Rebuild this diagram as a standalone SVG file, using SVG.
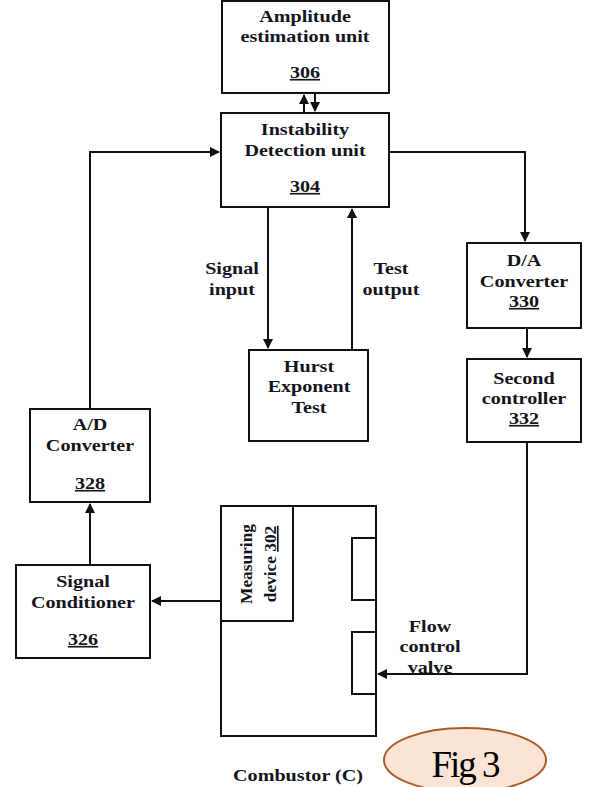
<svg xmlns="http://www.w3.org/2000/svg" width="601" height="787" viewBox="0 0 601 787">
<style>
.box{fill:#fff;stroke:#111;stroke-width:2}
.t{font-family:"Liberation Serif","Times New Roman",serif;font-weight:bold;font-size:16.5px;fill:#141420;text-anchor:middle}
.u{text-decoration:underline}
.c{fill:none;stroke:#111;stroke-width:2}
</style>
<defs>
<marker id="ah" markerWidth="10" markerHeight="10" refX="9" refY="5" orient="auto" markerUnits="userSpaceOnUse">
<path d="M0,0 L10,5 L0,10 z" fill="#111"/>
</marker>
</defs>
<rect width="601" height="787" fill="#fff"/>

<g id="amplitude">
<rect class="box" x="222" y="1" width="167" height="92"/>
<text class="t" transform="translate(305,22) scale(1.22,1)">Amplitude</text>
<text class="t" transform="translate(305,42) scale(1.22,1)">estimation unit</text>
<text class="t u" transform="translate(305,78) scale(1.22,1)">306</text>
</g>

<g id="instability">
<rect class="box" x="221" y="113" width="168" height="94"/>
<text class="t" transform="translate(305,135) scale(1.22,1)">Instability</text>
<text class="t" transform="translate(305,156) scale(1.22,1)">Detection unit</text>
<text class="t u" transform="translate(305,192) scale(1.22,1)">304</text>
</g>

<g id="hurst">
<rect class="box" x="249" y="350" width="119" height="91"/>
<text class="t" transform="translate(309,372) scale(1.22,1)">Hurst</text>
<text class="t" transform="translate(309,392) scale(1.22,1)">Exponent</text>
<text class="t" transform="translate(309,413) scale(1.22,1)">Test</text>
</g>

<g id="da">
<rect class="box" x="467" y="243" width="114" height="85"/>
<text class="t" transform="translate(524,266) scale(1.22,1)">D/A</text>
<text class="t" transform="translate(524,287) scale(1.22,1)">Converter</text>
<text class="t u" transform="translate(524,307) scale(1.22,1)">330</text>
</g>

<g id="second">
<rect class="box" x="467" y="359" width="114" height="83"/>
<text class="t" transform="translate(524,384) scale(1.22,1)">Second</text>
<text class="t" transform="translate(524,404) scale(1.22,1)">controller</text>
<text class="t u" transform="translate(524,424) scale(1.22,1)">332</text>
</g>

<g id="ad">
<rect class="box" x="30" y="409" width="120" height="93"/>
<text class="t" transform="translate(90,430) scale(1.22,1)">A/D</text>
<text class="t" transform="translate(90,451) scale(1.22,1)">Converter</text>
<text class="t u" transform="translate(90,489) scale(1.22,1)">328</text>
</g>

<g id="conditioner">
<rect class="box" x="16" y="565" width="134" height="93"/>
<text class="t" transform="translate(83,587) scale(1.22,1)">Signal</text>
<text class="t" transform="translate(83,608) scale(1.22,1)">Conditioner</text>
<text class="t u" transform="translate(83,645) scale(1.22,1)">326</text>
</g>

<g id="combustor">
<rect class="box" x="221" y="506" width="155" height="230"/>
<rect class="box" x="352" y="538" width="24" height="62"/>
<rect class="box" x="352" y="632" width="24" height="62"/>
<text class="t" transform="translate(298,781) scale(1.22,1)">Combustor (C)</text>
</g>

<g id="measuring">
<rect class="box" x="221" y="506" width="72" height="115"/>
<text class="t" transform="translate(252,564) rotate(-90) scale(1.05,1)">Measuring</text>
<text class="t" transform="translate(276,564) rotate(-90) scale(1.05,1)">device <tspan class="u">302</tspan></text>
</g>

<g id="connectors">
<line class="c" x1="304" y1="113" x2="304" y2="95" marker-end="url(#ah)"/>
<line class="c" x1="315" y1="93" x2="315" y2="111" marker-end="url(#ah)"/>
<polyline class="c" points="90,409 90,152 219,152" marker-end="url(#ah)"/>
<polyline class="c" points="389,152 525,152 525,241" marker-end="url(#ah)"/>
<line class="c" x1="268" y1="207" x2="268" y2="348" marker-end="url(#ah)"/>
<line class="c" x1="352" y1="350" x2="352" y2="209" marker-end="url(#ah)"/>
<line class="c" x1="527" y1="328" x2="527" y2="357" marker-end="url(#ah)"/>
<polyline class="c" points="527,442 527,674 378,674" marker-end="url(#ah)"/>
<line class="c" x1="90" y1="565" x2="90" y2="504" marker-end="url(#ah)"/>
<line class="c" x1="221" y1="601" x2="152" y2="601" marker-end="url(#ah)"/>
</g>

<g id="labels">
<text class="t" transform="translate(232,274) scale(1.22,1)">Signal</text>
<text class="t" transform="translate(232,295) scale(1.22,1)">input</text>
<text class="t" transform="translate(391,274) scale(1.22,1)">Test</text>
<text class="t" transform="translate(391,295) scale(1.22,1)">output</text>
<text class="t" transform="translate(430,632) scale(1.22,1)">Flow</text>
<text class="t" transform="translate(430,652) scale(1.22,1)">control</text>
<text class="t" transform="translate(430,673) scale(1.22,1)">valve</text>
</g>

<g id="fig">
<ellipse cx="465" cy="760" rx="81" ry="32" fill="#fbe4d6" stroke="#ad5b26" stroke-width="2"/>
<text x="465" y="777" font-family="Liberation Serif, serif" font-size="37" text-anchor="middle" fill="#000" letter-spacing="-2">Fig 3</text>
</g>
</svg>
